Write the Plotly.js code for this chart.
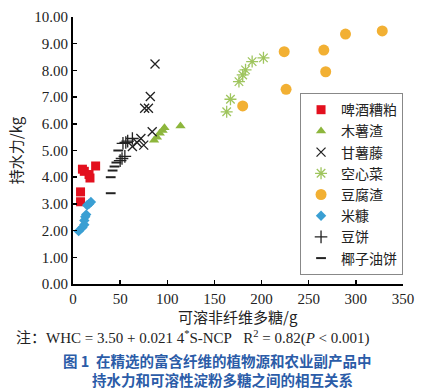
<!DOCTYPE html>
<html><head><meta charset="utf-8">
<script src="https://cdn.plot.ly/plotly-3.0.1.min.js"></script>
<style>html,body{margin:0;padding:0;background:#fff}#c{width:428px;height:390px}</style>
</head><body><div id="c"></div>
<script>
// Series names
const seriesNames = ["啤酒糟粕","木薯渣","甘薯藤","空心菜","豆腐渣","米糠","豆饼","椰子油饼"];
// 啤酒糟粕
const beerX = [10, 12, 17, 18, 24, 8, 8];
const beerY = [4.30, 4.22, 4.10, 3.97, 4.42, 3.45, 3.08];
// 木薯渣
const cassavaX = [86, 89, 92, 95, 97, 114];
const cassavaY = [5.38, 5.50, 5.65, 5.75, 5.85, 5.92];
// 甘薯藤
const vineX = [87, 82, 76, 80, 84, 72, 75, 63, 68];
const vineY = [8.24, 7.02, 6.58, 6.58, 5.70, 5.45, 5.20, 5.15, 5.30];
// 空心菜
const spinachX = [163, 167, 176, 180, 183, 190, 202];
const spinachY = [6.45, 6.92, 7.58, 7.83, 8.02, 8.33, 8.47];
// 豆腐渣
const tofuX = [180, 224, 226, 266, 268, 289, 328];
const tofuY = [6.67, 8.70, 7.29, 8.76, 7.95, 9.36, 9.48];
// 米糠
const branX = [6, 10, 12, 12, 13, 14, 15, 17, 19];
const branY = [1.98, 2.12, 2.22, 2.38, 2.52, 2.60, 2.95, 3.00, 3.07];
// 豆饼
const soyX = [50, 52, 55, 53, 56, 58, 63];
const soyY = [4.62, 4.70, 4.78, 5.27, 5.30, 5.35, 5.45];
// 椰子油饼
const cocoX = [40, 40, 42, 44, 46, 48];
const cocoY = [3.40, 4.00, 4.25, 4.40, 4.55, 5.00];
// Axis ticks
const xTicks = [0, 50, 100, 150, 200, 250, 300, 350];
const yTicks = [0, 1, 2, 3, 4, 5, 6, 7, 8, 9, 10];
const yTickText = yTicks.map(v => v.toFixed(2));

const xs = [beerX, cassavaX, vineX, spinachX, tofuX, branX, soyX, cocoX];
const ys = [beerY, cassavaY, vineY, spinachY, tofuY, branY, soyY, cocoY];
const markers = [
  {symbol:'square', color:'#e3101e', size:9},
  {symbol:'triangle-up', color:'#8db63c', size:9},
  {symbol:'x-thin-open', color:'#222', size:9, line:{width:1.3, color:'#222'}},
  {symbol:'asterisk-open', color:'#9fc55e', size:10, line:{width:1.3, color:'#9fc55e'}},
  {symbol:'circle', color:'#f2b033', size:11},
  {symbol:'diamond', color:'#3a9fd3', size:8},
  {symbol:'cross-thin-open', color:'#222', size:9, line:{width:1.3, color:'#222'}},
  {symbol:'line-ew-open', color:'#222', size:7, line:{width:2, color:'#222'}}
];
const data = seriesNames.map((n,i)=>({
  type:'scatter', mode:'markers', name:n, x:xs[i], y:ys[i], marker:markers[i]
}));

const serif = 'Liberation Serif, Times New Roman, serif';
const cjk = 'Noto Sans CJK SC, sans-serif';
const layout = {
  width:428, height:390,
  margin:{l:72.5, r:25, t:17, b:106},
  paper_bgcolor:'#fff', plot_bgcolor:'#fff',
  showlegend:true,
  legend:{x:0.688, y:0.715, xanchor:'left', yanchor:'top', bordercolor:'#888', borderwidth:1,
          font:{family:cjk, size:14, color:'#222'}, bgcolor:'#fff', tracegroupgap:0, itemsizing:'trace'},
  xaxis:{range:[0,350], tickvals:xTicks, ticks:'inside', ticklen:4, tickwidth:1.5, tickcolor:'#000',
         showline:true, linecolor:'#000', linewidth:2, showgrid:false, zeroline:false,
         tickfont:{family:serif, size:15, color:'#222'}, fixedrange:true},
  yaxis:{range:[0,10], tickvals:yTicks, ticktext:yTickText, ticks:'inside', ticklen:4, tickwidth:1.5, tickcolor:'#000',
         showline:true, linecolor:'#000', linewidth:2, showgrid:false, zeroline:false,
         tickfont:{family:serif, size:15, color:'#222'},
         title:{text:'持水力/kg', font:{family:cjk, size:15, color:'#222'}, standoff:8}},
  annotations:[
    {xref:'paper', yref:'paper', x:0.5, y:-0.122, xanchor:'center', yanchor:'middle', showarrow:false,
     text:'可溶非纤维多糖/g', font:{family:cjk, size:15, color:'#222'}},
    {xref:'paper', yref:'paper', x:-0.18, y:-0.2, xanchor:'left', yanchor:'middle', showarrow:false,
     text:'注：WHC = 3.50 + 0.021 4<sup>*</sup>S-NCP&nbsp;&nbsp;&nbsp;R<sup>2</sup> = 0.82(<i>P</i> < 0.001)',
     font:{family:serif+', Noto Sans CJK SC', size:15, color:'#222'}},
    {xref:'paper', yref:'paper', x:0.437, y:-0.285, xanchor:'center', yanchor:'middle', showarrow:false,
     text:'<b>图 1  在精选的富含纤维的植物源和农业副产品中</b>', font:{family:cjk, size:14.5, color:'#2b5ca8'}},
    {xref:'paper', yref:'paper', x:0.452, y:-0.356, xanchor:'center', yanchor:'middle', showarrow:false,
     text:'<b>持水力和可溶性淀粉多糖之间的相互关系</b>', font:{family:cjk, size:14.5, color:'#2b5ca8'}}
  ]
};
Plotly.newPlot('c', data, layout, {displayModeBar:false, staticPlot:true});
</script></body></html>
